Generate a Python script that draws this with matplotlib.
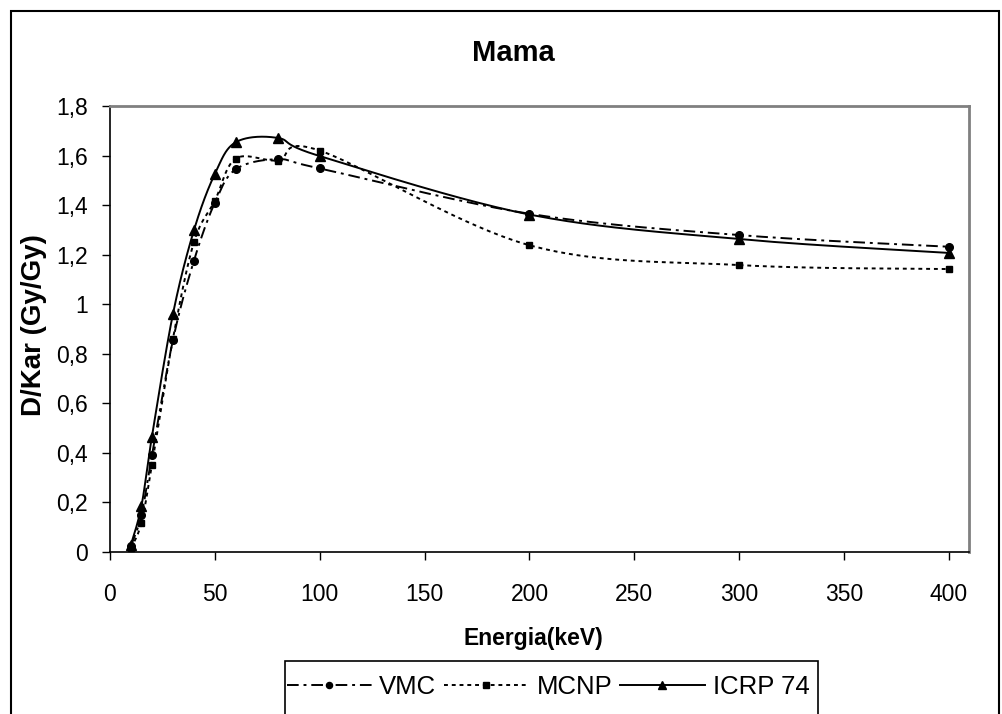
import numpy as np
import matplotlib
matplotlib.use("Agg")
import matplotlib.pyplot as plt
from matplotlib.lines import Line2D
from matplotlib.patches import Rectangle

plt.rcParams['font.family'] = ['Liberation Sans', 'DejaVu Sans']

# ---- data ----
energy = [10, 15, 20, 30, 40, 50, 60, 80, 100, 200, 300, 400]
vmc = [0.025, 0.15, 0.39, 0.855, 1.175, 1.41, 1.545, 1.585, 1.548, 1.365, 1.279, 1.232]
mcnp = [0.015, 0.118, 0.352, 0.86, 1.25, 1.418, 1.588, 1.58, 1.62, 1.238, 1.158, 1.142]
icrp = [0.03, 0.186, 0.466, 0.96, 1.298, 1.526, 1.654, 1.671, 1.598, 1.362, 1.263, 1.207]
series_names = ["VMC", "MCNP", "ICRP 74"]
xticks = [0, 50, 100, 150, 200, 250, 300, 350, 400]
yticks = [0, 0.2, 0.4, 0.6, 0.8, 1.0, 1.2, 1.4, 1.6, 1.8]
ytick_labels = ["0", "0,2", "0,4", "0,6", "0,8", "1", "1,2", "1,4", "1,6", "1,8"]

W, H = 1003, 714
fig = plt.figure(figsize=(W / 100, H / 100), dpi=100)
ax = fig.add_axes([110 / W, 1 - 552 / H, (969.3 - 110) / W, (552 - 106) / H])
ax.set_xlim(0, 409.7)
ax.set_ylim(0, 1.8)


def excel_smooth(xs, ys, n=40):
    pts = ax.transData.transform(np.column_stack([xs, ys]))
    out = []
    m = len(pts)
    for i in range(m - 1):
        p0 = pts[max(i - 1, 0)]
        p1 = pts[i]
        p2 = pts[i + 1]
        p3 = pts[min(i + 2, m - 1)]
        c1 = p1 + (p2 - p0) / 6.0
        c2 = p2 - (p3 - p1) / 6.0
        t = np.linspace(0, 1, n)[:, None]
        seg = ((1 - t) ** 3) * p1 + 3 * ((1 - t) ** 2) * t * c1 + 3 * (1 - t) * t ** 2 * c2 + t ** 3 * p2
        out.append(seg if i == 0 else seg[1:])
    out = np.vstack(out)
    d = ax.transData.inverted().transform(out)
    return d[:, 0], d[:, 1]


styles = [
    dict(ls=(0, (6, 2.5, 1.5, 2.5)), marker='o', ms=5.5),
    dict(ls=(0, (2, 2)), marker='s', ms=5),
    dict(ls='-', marker='^', ms=6.5),
]
handles = []
for ys, st, name in zip([vmc, mcnp, icrp], styles, series_names):
    sx, sy = excel_smooth(energy, ys)
    ax.plot(sx, sy, color='black', lw=1.4, linestyle=st['ls'], zorder=3)
    ax.plot(energy, ys, linestyle='none', marker=st['marker'], ms=st['ms'],
            color='black', zorder=4, clip_on=False)
    handles.append(Line2D([], [], color='black', lw=1.4, linestyle=st['ls'],
                          marker=st['marker'], ms=st['ms'] * 0.8))

ax.set_xticks(xticks)
ax.set_yticks(yticks)
ax.set_yticklabels(ytick_labels)
ax.tick_params(axis='both', direction='out', length=6, width=1, color='black',
               labelsize=16.5)
ax.tick_params(axis='x', pad=16)
ax.tick_params(axis='y', pad=10)
for s in ['top', 'right']:
    ax.spines[s].set_color('#808080')
    ax.spines[s].set_linewidth(2)
for s in ['left', 'bottom']:
    ax.spines[s].set_color('black')
    ax.spines[s].set_linewidth(1.2)

fig.text(513 / W, 1 - 53 / H, "Mama", ha='center', va='center',
         fontsize=21, fontweight='bold')
fig.text(533 / W, 1 - 638 / H, "Energia(keV)", ha='center', va='center',
         fontsize=16.5, fontweight='bold')
fig.text(34 / W, 1 - 325 / H, "D/Kar (Gy/Gy)", ha='center', va='center',
         rotation=90, fontsize=20, fontweight='bold')

# outer chart border
fig.patches.append(Rectangle((11 / W, -0.1), (999 - 11) / W, 1.1 - 11 / H,
                             transform=fig.transFigure, fill=False,
                             edgecolor='black', lw=1.5))
# legend box
fig.patches.append(Rectangle((285 / W, -0.1), (818 - 285) / W, 0.1 + 1 - 661 / H,
                             transform=fig.transFigure, fill=False,
                             edgecolor='black', lw=1.2))
fig.legend(handles, series_names, loc='center', bbox_to_anchor=(548 / W, 1 - 687 / H),
           ncol=3, frameon=False, fontsize=18.5, handlelength=3.3,
           columnspacing=0.3, handletextpad=0.3)

fig.savefig("out.png", dpi=100)
